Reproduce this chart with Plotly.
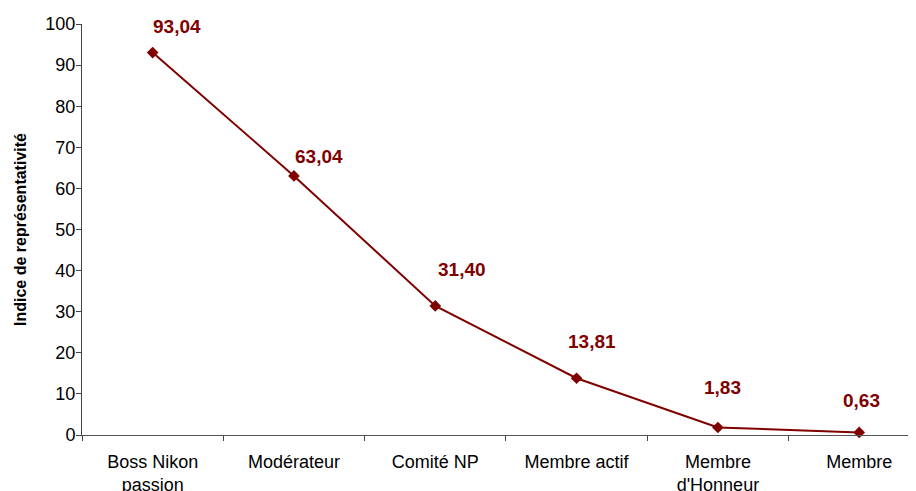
import plotly.graph_objects as go

categories = ["Boss Nikon<br>passion", "Modérateur", "Comité NP", "Membre actif",
              "Membre<br>d'Honneur", "Membre"]
values = [93.04, 63.04, 31.40, 13.81, 1.83, 0.63]
value_labels = ["93,04", "63,04", "31,40", "13,81", "1,83", "0,63"]
y_ticks = [0, 10, 20, 30, 40, 50, 60, 70, 80, 90, 100]

# label placement offsets (pixels) relative to each point
label_dx = [24, 25, 27, 15, 5, 2]
label_dy = [26, 19, 36, 37, 40, 32]

RED = "#800000"
FONT = "Liberation Sans, Arial, sans-serif"

fig = go.Figure()
fig.add_trace(go.Scatter(
    x=categories, y=values, mode="lines+markers",
    line=dict(color=RED, width=2),
    marker=dict(symbol="diamond", size=9, color=RED),
    cliponaxis=False, showlegend=False,
))

for c, v, t, dx, dy in zip(categories, values, value_labels, label_dx, label_dy):
    fig.add_annotation(x=c, y=v, text=t, showarrow=False,
                       xanchor="center", yanchor="middle",
                       xshift=dx, yshift=dy,
                       font=dict(family=FONT, size=19, color=RED, weight="bold"))

fig.add_annotation(xref="paper", yref="paper", x=0, y=0.5, xshift=-61.5,
                   xanchor="center", yanchor="middle", textangle=-90,
                   text="Indice de représentativité", showarrow=False,
                   font=dict(family=FONT, size=16, color="#000000", weight="bold"))

fig.update_layout(
    width=908, height=483,
    margin=dict(l=74, r=0, t=16, b=56),
    paper_bgcolor="white", plot_bgcolor="white",
    font=dict(family=FONT, size=16, color="#000000"),
    xaxis=dict(
        type="category", categoryorder="array", categoryarray=categories,
        range=[-0.5, 5.402], tickson="boundaries",
        ticks="outside", ticklen=5, tickcolor="#444444", tickwidth=1,
        showline=True, linecolor="#555555", linewidth=1,
        showgrid=False, zeroline=False, automargin=False,
        ticklabelstandoff=10,
        tickfont=dict(family=FONT, size=18, color="#000000"),
    ),
    yaxis=dict(
        range=[0, 100], tickmode="array", tickvals=y_ticks,
        ticks="outside", ticklen=5, tickcolor="#444444", tickwidth=1,
        showline=True, linecolor="#444444", linewidth=1,
        showgrid=False, zeroline=False, automargin=False,
        ticklabelstandoff=-3,
        tickfont=dict(family=FONT, size=18, color="#000000"),
    ),
)

fig.write_html("out.html")
